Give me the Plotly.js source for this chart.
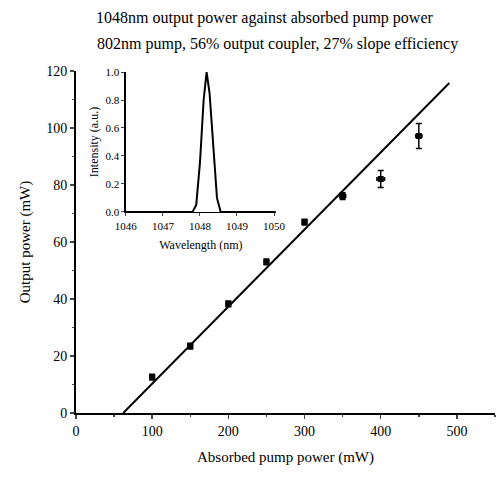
<!DOCTYPE html>
<html>
<head>
<meta charset="utf-8">
<script src="https://cdn.plot.ly/plotly-3.0.1.min.js"></script>
<style>html,body{margin:0;padding:0;background:#fff;}#chart{width:497px;height:478px;}</style>
</head>
<body>
<div id="chart"></div>
<script>
// Main data: absorbed pump power vs output power
const pumpPower = [100, 150, 200, 250, 300, 350, 400, 450];
const outputPower = [12.6, 23.5, 38.3, 53, 67, 76.1, 82.1, 97.2];
const outputErr = [1, 1, 1, 1, 1, 1.2, 3, 4.4];
const pumpErr = [3, 3, 3, 3, 3, 4, 5, 4];
// Linear fit (27% slope efficiency)
const fitX = [62, 490];
const fitY = [0, 115.8];
// Inset spectrum
const wavelength = [1046, 1047.8, 1047.9, 1048.0, 1048.1, 1048.18, 1048.26, 1048.36, 1048.46, 1048.56, 1050.05];
const intensity = [0, 0, 0.05, 0.35, 0.8, 1.0, 0.85, 0.45, 0.1, 0, 0];
const mainXTicks = [0, 100, 200, 300, 400, 500];
const mainYTicks = [0, 20, 40, 60, 80, 100, 120];
const insetXTicks = [1046, 1047, 1048, 1049, 1050];
const insetYTicks = [0, 0.2, 0.4, 0.6, 0.8, 1.0];
const titleLines = ['1048nm output power against absorbed pump power',
                    '802nm pump, 56% output coupler, 27% slope efficiency'];

const serif = 'Liberation Serif, Times New Roman, serif';

const traces = [
  {x: fitX, y: fitY, mode: 'lines', line: {color: '#000', width: 2}, xaxis: 'x', yaxis: 'y', hoverinfo: 'skip'},
  {x: pumpPower, y: outputPower, mode: 'markers', marker: {symbol: 'square', size: 6, color: '#000'},
   error_y: {type: 'data', array: outputErr, color: '#000', thickness: 1.5, width: 3},
   error_x: {type: 'data', array: pumpErr, color: '#000', thickness: 1.5, width: 2},
   xaxis: 'x', yaxis: 'y'},
  {x: wavelength, y: intensity, mode: 'lines', line: {color: '#000', width: 2}, xaxis: 'x2', yaxis: 'y2'}
];

const layout = {
  width: 497, height: 478,
  margin: {l: 76, r: 2, t: 71, b: 65},
  paper_bgcolor: '#fff', plot_bgcolor: 'rgba(0,0,0,0)',
  showlegend: false,
  font: {family: serif, color: '#000', size: 14},
  annotations: [
    {text: titleLines[0], xref: 'paper', yref: 'paper', x: 0.45, y: 1.155, xanchor: 'center', yanchor: 'middle',
     showarrow: false, font: {family: serif, size: 16, color: '#000'}},
    {text: titleLines[1], xref: 'paper', yref: 'paper', x: 0.48, y: 1.079, xanchor: 'center', yanchor: 'middle',
     showarrow: false, font: {family: serif, size: 16, color: '#000'}}
  ],
  xaxis: {range: [0, 550], tickvals: mainXTicks, ticks: 'outside', ticklen: 4, tickwidth: 1.5,
          showline: true, linewidth: 2, linecolor: '#000', showgrid: false, zeroline: false,
          tickfont: {family: serif, size: 14}, minor: {ticks: 'outside', ticklen: 2, dtick: 50},
          title: {text: 'Absorbed pump power (mW)', font: {family: serif, size: 15}, standoff: 14}},
  yaxis: {range: [0, 120], tickvals: mainYTicks, ticks: 'outside', ticklen: 4, tickwidth: 1.5,
          showline: true, linewidth: 2, linecolor: '#000', showgrid: false, zeroline: false,
          tickfont: {family: serif, size: 14}, minor: {ticks: 'outside', ticklen: 2, dtick: 10},
          title: {text: 'Output power (mW)', font: {family: serif, size: 15}, standoff: 12}},
  xaxis2: {domain: [0.119, 0.477], anchor: 'y2', range: [1046, 1050.05], tickvals: insetXTicks,
           ticks: 'outside', ticklen: 3, showline: true, linewidth: 1.5, linecolor: '#000',
           showgrid: false, zeroline: false, tickfont: {family: serif, size: 11},
           title: {text: 'Wavelength (nm)', font: {family: serif, size: 12}, standoff: 10}},
  yaxis2: {domain: [0.588, 0.997], anchor: 'x2', range: [0, 1.0], tickvals: insetYTicks,
           ticktext: ['0.0', '0.2', '0.4', '0.6', '0.8', '1.0'],
           ticks: 'outside', ticklen: 3, showline: true, linewidth: 1.5, linecolor: '#000',
           showgrid: false, zeroline: false, tickfont: {family: serif, size: 11},
           title: {text: 'Intensity (a.u.)', font: {family: serif, size: 12}, standoff: 4}}
};

Plotly.newPlot('chart', traces, layout, {displayModeBar: false, staticPlot: true});
</script>
</body>
</html>
